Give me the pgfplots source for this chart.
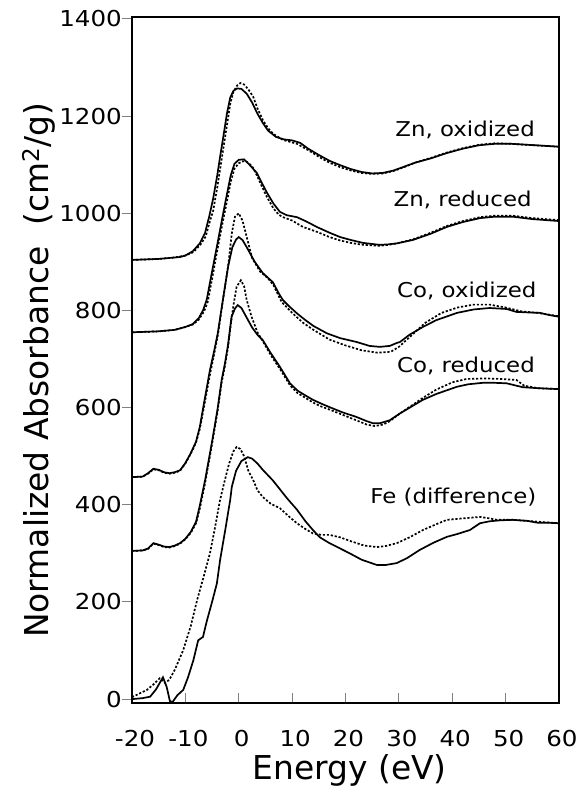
\documentclass[border=0pt]{standalone}
\usepackage{fontspec}
\setmainfont{DejaVu Sans}
\newfontfamily\wide{DejaVu Sans}[FakeStretch=1.12]
\usepackage{pgfplots}
\pgfplotsset{compat=1.18}
\usetikzlibrary{calc}

\pgfplotstableread{
E Y
-20 904
-15 906
-12 909
-11 910
-10 913
-8.6 922
-7.3 938
-6.3 960
-5.5 995
-4.8 1030
-4 1080
-3.5 1116
-3 1150
-2.2 1206
-1.6 1238
-1.0 1252
-0.3 1257
0.5 1256
1.5 1246
2.5 1228
3.5 1205
4.5 1186
5.5 1170
7 1157
8.5 1152
10 1150
11.5 1145
13 1133
15 1120
17 1108
19 1099
21 1091
23 1085
25 1082
27 1083
29 1088
31 1096
33 1104
36 1113
39 1124
42 1133
45 1140
48 1143
51 1143
54 1141
57 1139
60 1137
}\znoxs

\pgfplotstableread{
E Y
-20 904
-15 906
-12 909
-10 913
-8.5 920
-7.2 935
-6.2 952
-5.5 980
-4.8 1005
-4 1055
-3.5 1090
-2.8 1140
-2.2 1182
-1.6 1225
-1.0 1250
-0.3 1263
0.3 1268
1.0 1265
1.8 1255
2.7 1240
3.5 1216
4.5 1192
5.5 1175
6.5 1163
8.3 1151
10.9 1143
13 1130
15.2 1115
17 1104
19 1095
21 1088
23 1083
25 1081
27 1082
29 1087
31 1095
33 1104
36 1114
39 1125
42 1134
45 1141
48 1144
51 1143
54 1141
57 1139
60 1137
}\znoxd

\pgfplotstableread{
E Y
-20 755
-15 757
-12 760
-10 766
-8.6 772
-7.5 784
-6.7 800
-6 822
-5 880
-4 937
-3 995
-2.2 1040
-1.5 1078
-0.8 1102
0 1110
1.0 1111
2.0 1100
3.4 1083
4.3 1063
5.3 1042
6.5 1020
7.7 1003
9 996
10.9 992
12.5 984
14.6 972
17 960
19 951
21 945
23.3 939
26.4 935
28 936
29.6 938
32.6 945
36 958
39 972
42 982
45.2 990
48 993
51.3 993
55 988
60 984
}\znreds

\pgfplotstableread{
E Y
-20 755
-15 757
-12 760
-10 766
-8.6 771
-7.5 781
-6.5 798
-5.8 818
-5 865
-4 925
-3 982
-2.2 1025
-1.5 1065
-0.8 1092
0 1103
0.8 1107
1.5 1106
2.5 1097
3.4 1078
4.3 1056
5.3 1033
6.5 1010
7.5 997
8.3 992
10 985
12 972
14.6 962
17 951
19 944
21 939
23.3 935
26.4 933
28 935
29.6 938
32.6 946
36 960
39 974
42 984
45.2 992
48 995
51.3 995
55 990
60 986
}\znredd

\pgfplotstableread{
E Y
-20 457
-18 458
-17 465
-16 474
-15 472
-14 467
-13 465
-12 467
-11 471
-10 486
-9 506
-8 530
-7.3 560
-6.5 610
-5.4 677
-4.5 722
-3.9 755
-3 820
-2 890
-1.2 930
-0.5 946
0 951
0.7 945
1.5 930
2.1 918
3 900
4.5 877
5.5 867
6.4 858
7.5 835
8.3 821
9.5 808
10.9 794
12.5 780
14 768
16.5 753
19 743
22.1 735
24.5 727
26.4 725
28.3 727
29.6 733
30.2 735
32 750
34.5 766
37 780
40.9 795
44 802
47 805
50.2 803
52 797
54 796
56.4 795
58 791
60 787
}\coox

\pgfplotstableread{
E Y
-20 457
-18 458
-17 464
-16 473
-15 471
-14 466
-13 464
-12 466
-11 470
-10 485
-9 505
-8 528
-7.3 556
-6.5 602
-5.4 668
-4.5 716
-3.9 750
-3 818
-2 890
-1.3 959
-0.7 993
0 1000
0.7 985
1.5 951
2.5 908
4 880
5.5 866
6.5 852
8 818
10 795
12 775
14 760
17 740
20 728
23 718
26 713
28.5 715
30 725
32 745
35 775
38 795
41 806
44 812
47 812
50 806
53 798
56 795
60 788
}\cooxd

\pgfplotstableread{
E Y
-20 305
-18 306
-17 310
-16 321
-15 318
-14 314
-13 313
-12 316
-11 321
-10 330
-9 344
-8 365
-7.3 398
-6.3 451
-5 530
-4 595
-3.2 657
-2.6 690
-2 730
-1.35 787
-0.7 804
-0.2 811
0.5 805
1.5 785
2.5 765
3.5 750
4.5 739
6 712
7.7 684
9.6 650
11 635
12.5 625
13.9 616
15.5 608
17 601
19.5 590
22 581
24 572
25.1 568
26.5 568
28.3 574
30.2 588
32.5 603
34.5 616
37 628
40.9 643
43 648
45.7 651
48 651
50.2 650
53.2 642
56 640
60 638
}\cored

\pgfplotstableread{
E Y
-20 305
-18 306
-17 309
-16 320
-15 317
-14 313
-13 312
-12 315
-11 320
-10 329
-9 342
-8 362
-7.3 392
-6.3 445
-5 525
-4 590
-3.2 652
-2.6 685
-2 725
-1.5 770
-1 810
-0.4 849
0.4 862
1 850
1.5 821
2.4 787
3.5 755
4.5 737
6 708
7.7 680
9.6 646
11 630
12.5 620
14 610
15.5 602
17 596
19.5 585
22 574
24 565
25.5 562
27 565
28.3 572
30.2 588
32.5 605
34.5 620
37 637
40 652
42.7 659
46 660
49 659
52 657
53.5 645
56 640
60 638
}\coredd

\pgfplotstableread{
E Y
-20 0
-18 2
-16.6 5
-15.5 20
-14.2 45
-13.5 25
-12.9 -4
-12.4 -6
-11.5 8
-10.4 19
-9.5 45
-8.5 80
-7.6 121
-6.7 128
-6 160
-5 200
-4.1 238
-3.5 286
-2.5 350
-1.6 410
-1.3 437
-0.5 470
0.5 490
1.7 498
2.5 495
3.5 485
4.5 472
6.4 450
7.7 432
9 414
10.9 390
12.5 366
13.9 348
15.2 333
17 321
19 310
20.8 300
23 287
25.9 276
27.5 276
29.6 280
31.5 290
33.9 307
36.5 322
39 334
41 340
43.3 348
45.2 362
47 366
49 368
51.3 369
54 367
56 363
58 363
60 362
}\fes

\pgfplotstableread{
E Y
-20 4
-18.5 12
-17.2 19
-16 30
-14.8 43
-13.8 33
-13 40
-12 60
-10.4 101
-9 150
-7.8 204
-6.5 255
-5.4 300
-4.5 350
-3.5 410
-2.6 451
-1.8 485
-1 510
-0.4 519
0.3 515
1 500
1.8 470
2.7 451
3.5 430
4.5 416
6 402
7.7 393
9.5 375
10.9 362
12.5 350
13.9 341
15.5 338
17 338
19 333
21 325
23.5 316
25.9 313
27.5 315
29.6 321
32 333
34.5 348
37 360
39 369
42 372
45.2 375
47 372
48.3 369
51.3 369
55 366
60 362
}\fed

\begin{document}
\begin{tikzpicture}
\begin{axis}[
  scale only axis,
  width=427bp, height=686bp,
  xmin=-20, xmax=60, ymin=-8, ymax=1404,
  xtick={-20,-10,0,10,20,30,40,50,60},
  ytick={0,200,400,600,800,1000,1200,1400},
  xtick pos=bottom, ytick pos=left,
  tick align=inside,
  major tick length=10bp,
  y tick style={xshift=-10bp, line width=1.1bp},
  x tick style={line width=1.1bp},
  axis line style={line width=1.2bp},
  /pgf/number format/assume math mode=true,
  /pgf/number format/1000 sep={},
  tick label style={font=\wide\fontsize{22}{22}\selectfont},
  yticklabel style={xshift=-9bp, inner sep=1bp},
  xticklabel style={yshift=-24bp, xshift=3bp},
  xlabel={Energy (eV)},
  ylabel={Normalized Absorbance\ \ (cm\textsuperscript{2}/g)},
  every axis x label/.style={at={(axis description cs:0.51,-0.111)}, anchor=base, font=\fontsize{33}{33}\selectfont},
  every axis y label/.style={at={(axis description cs:-0.218,0.485)}, rotate=90, anchor=center, font=\fontsize{33}{33}\selectfont},
  clip=false,
]
\addplot[black, line width=1.7bp] table {\znoxs};
\addplot[black, line width=1.7bp, dash pattern=on 2.2bp off 1.8bp] table {\znoxd};
\addplot[black, line width=1.7bp] table {\znreds};
\addplot[black, line width=1.7bp, dash pattern=on 2.2bp off 1.8bp] table {\znredd};
\addplot[black, line width=1.7bp] table {\coox};
\addplot[black, line width=1.7bp, dash pattern=on 2.2bp off 1.8bp] table {\cooxd};
\addplot[black, line width=1.7bp] table {\cored};
\addplot[black, line width=1.7bp, dash pattern=on 2.2bp off 1.8bp] table {\coredd};
\addplot[black, line width=1.7bp] table {\fes};
\addplot[black, line width=1.7bp, dash pattern=on 2.2bp off 1.8bp] table {\fed};
\begin{scope}[every node/.style={font=\wide\fontsize{20.5}{20.5}\selectfont, anchor=base east, inner sep=0pt}]
\node at (axis cs:55.5,1157) {Zn, oxidized};
\node at (axis cs:54.9,1013) {Zn, reduced};
\node at (axis cs:55.8,826) {Co, oxidized};
\node at (axis cs:55.5,673) {Co, reduced};
\node at (axis cs:55.8,403) {Fe (difference)};
\end{scope}
\end{axis}
\pgfresetboundingbox
\path ($(current axis.south west)+(-132bp,-84bp)$) rectangle ($(current axis.north east)+(25bp,17bp)$);
\end{tikzpicture}
\end{document}
